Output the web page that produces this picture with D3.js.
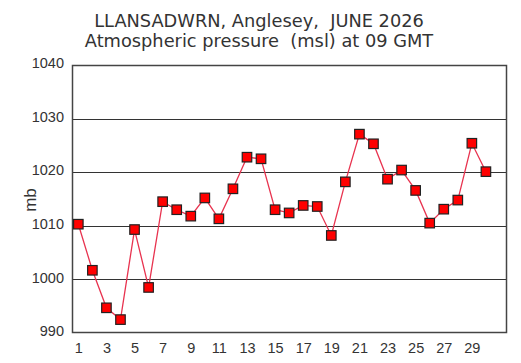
<!DOCTYPE html>
<html><head><meta charset="utf-8">
<script src="https://cdn.jsdelivr.net/npm/d3@7"></script>
<style>body{margin:0;background:#fff}</style>
</head><body>
<script>
const days = d3.range(1, 31);
const pressure = [1010.3,1001.7,994.7,992.5,1009.3,998.5,1014.5,1013.0,1011.8,1015.2,
  1011.3,1016.9,1022.8,1022.5,1013.0,1012.4,1013.8,1013.6,1008.2,1018.2,
  1027.1,1025.3,1018.7,1020.4,1016.6,1010.5,1013.1,1014.8,1025.4,1020.1];
const yTicks = [990,1000,1010,1020,1030,1040];
const xTicks = d3.range(1, 30, 2);
const titleLines = ["LLANSADWRN, Anglesey,  JUNE 2026", "Atmospheric pressure  (msl) at 09 GMT"];

const W = 521, H = 363;
const L = 72, R = 507, T = 65, B = 333;
const svg = d3.select("body").append("svg").attr("width", W).attr("height", H);
const x = d3.scaleLinear().domain([0.55, 31.5]).range([L, R]);
const y = d3.scaleLinear().domain([990, 1040]).range([B, T]);

svg.selectAll(".t").data(titleLines).enter().append("text")
  .attr("x", 259).attr("y", (d, i) => 27 + i * 20)
  .attr("text-anchor", "middle").attr("font-family", "DejaVu Sans, Verdana, sans-serif")
  .attr("font-size", 17.8).attr("fill", "#333").attr("xml:space", "preserve")
  .style("white-space", "pre").text(d => d);

// gridlines
svg.append("g").selectAll("line").data(yTicks.slice(1, -1)).enter().append("line")
  .attr("x1", L).attr("x2", R).attr("y1", d => Math.round(y(d)) + 0.5).attr("y2", d => Math.round(y(d)) + 0.5)
  .attr("stroke", "#333").attr("stroke-width", 1);

svg.append("rect").attr("x", L + 0.5).attr("y", T + 0.5).attr("width", R - L - 1).attr("height", B - T - 1)
  .attr("fill", "none").attr("stroke", "#444").attr("stroke-width", 1.5);

const yAxis = svg.append("g").attr("transform", `translate(${L},-2)`)
  .call(d3.axisLeft(y).tickValues(yTicks).tickFormat(d3.format("d")).tickSize(0).tickPadding(8));
yAxis.select(".domain").remove();
yAxis.selectAll("text").attr("font-family", "Liberation Sans, Arial, sans-serif").attr("font-size", 14.5).attr("fill", "#333");

const xAxis = svg.append("g").attr("transform", `translate(0,${B})`)
  .call(d3.axisBottom(x).tickValues(xTicks).tickFormat(d3.format("d")).tickSize(0).tickPadding(10));
xAxis.select(".domain").remove();
xAxis.selectAll("text").attr("font-family", "Liberation Sans, Arial, sans-serif").attr("font-size", 14.5).attr("fill", "#333");

svg.append("text").attr("transform", "translate(36,200) rotate(-90)")
  .attr("text-anchor", "middle").attr("font-family", "Liberation Sans, Arial, sans-serif")
  .attr("font-size", 17).attr("fill", "#333").text("mb");

const data = days.map((d, i) => ({d, v: pressure[i]}));
svg.append("path").datum(data)
  .attr("d", d3.line().x(p => x(p.d)).y(p => y(p.v)))
  .attr("fill", "none").attr("stroke", "#e8334f").attr("stroke-width", 1.3);

svg.selectAll(".m").data(data).enter().append("rect")
  .attr("x", p => x(p.d) - 4.75).attr("y", p => y(p.v) - 4.75)
  .attr("width", 9.5).attr("height", 9.5)
  .attr("fill", "#ff0000").attr("stroke", "#222").attr("stroke-width", 1.2);
</script>
</body></html>
